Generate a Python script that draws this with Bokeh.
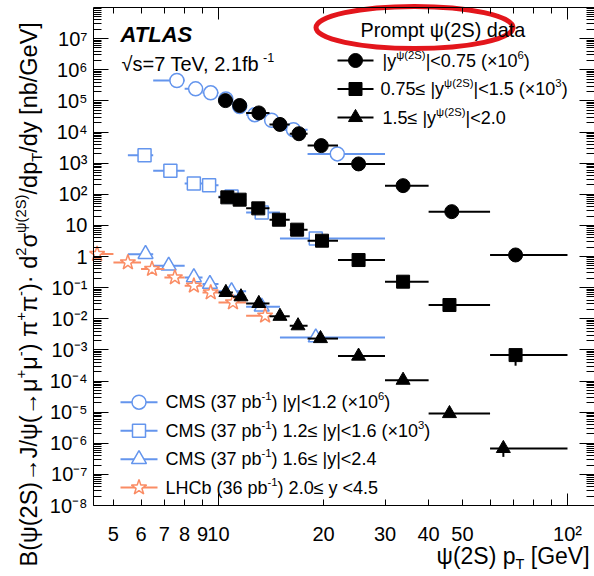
import math
from bokeh.plotting import figure
from bokeh.models import FixedTicker, LogAxis, CustomJSTickFormatter, Label
from bokeh.embed import file_html
from bokeh.resources import INLINE

# ---------------- data ----------------
# ATLAS prompt psi(2S), pT bins (GeV)
atlas_lo = [10, 11, 12, 14, 16, 18, 22, 30, 40, 60]
atlas_hi = [11, 12, 14, 16, 18, 22, 30, 40, 60, 100]
# |y|<0.75 (x1e6)
atlas_c_pt = [10.47, 11.5, 13.05, 15.0, 17.0, 19.7, 25.2, 33.8, 46.6, 71.0]
atlas_c_val = [1.02e5, 7.1e4, 4.1e4, 1.75e4, 8.8e3, 3.65e3, 942, 189, 27.6, 1.12]
# 0.75<=|y|<1.5 (x1e3)
atlas_s_pt = [10.6, 11.5, 13.0, 14.9, 16.8, 19.8, 25.2, 33.8, 45.9, 71.0]
atlas_s_val = [79.5, 67, 35.2, 15.2, 7.28, 3.22, 0.77, 0.155, 0.0276, 6.8e-4]
atlas_s_low = [79.5, 67, 35.2, 15.2, 7.28, 3.22, 0.77, 0.155, 0.0276, 3.1e-4]
# 1.5<=|y|<2.0
atlas_t_pt = [10.5, 11.6, 13.05, 15.0, 16.9, 19.6, 25.2, 33.8, 45.9, 65.5]
atlas_t_val = [0.070, 0.0509, 0.031, 0.0120, 5.96e-3, 2.31e-3, 6.3e-4, 1.06e-4, 9.0e-6, 6.8e-7]
atlas_t_low = [0.070, 0.0509, 0.031, 0.0120, 5.96e-3, 2.31e-3, 6.3e-4, 1.06e-4, 9.0e-6, 3.65e-7]

# CMS |y|<1.2 (x1e6)
cms_c_lo = [6.5, 8, 9, 10, 11, 12, 13.5, 15, 18]
cms_c_hi = [8, 9, 10, 11, 12, 13.5, 15, 18, 30]
cms_c_pt = [7.6, 8.6, 9.5, 10.5, 11.5, 12.7, 14.2, 16.4, 21.9]
cms_c_val = [4.5e5, 2.43e5, 1.81e5, 1.15e5, 6.6e4, 3.6e4, 2.38e4, 1.19e4, 1.98e3]
# CMS 1.2<=|y|<1.6 (x1e3)
cms_s_lo = [5.5, 6.5, 8, 9, 10, 12, 15]
cms_s_hi = [6.5, 8, 9, 10, 12, 15, 30]
cms_s_pt = [6.14, 7.28, 8.5, 9.4, 10.9, 13.3, 19.0]
cms_s_val = [1.78e3, 570, 222, 195, 85, 26, 3.8]
# CMS 1.6<=|y|<2.4
cms_t_lo = [5.5, 6.5, 8, 9, 10, 12, 15]
cms_t_hi = [6.5, 8, 9, 10, 12, 15, 30]
cms_t_pt = [6.18, 7.2, 8.5, 9.45, 10.9, 13.3, 19.0]
cms_t_val = [1.19, 0.506, 0.213, 0.131, 0.0766, 0.0243, 2.5e-3]
# LHCb 2.0<=y<4.5
lhcb_lo = [4, 5, 6, 7, 8, 9, 10, 12]
lhcb_hi = [5, 6, 7, 8, 9, 10, 12, 14]
lhcb_pt = [4.49, 5.5, 6.45, 7.5, 8.5, 9.5, 11.0, 13.6]
lhcb_val = [1.20, 0.646, 0.396, 0.213, 0.115, 0.070, 0.0334, 0.0125]

x_major = [10, 100]
x_minor = [5, 6, 7, 8, 9, 20, 30, 40, 50, 60, 70, 80, 90]
x_labelled = [5, 6, 7, 8, 9, 10, 20, 30, 40, 50, 100]
y_decades = [10.0 ** k for k in range(-8, 9)]
y_minor = [m * 10.0 ** k for k in range(-8, 8) for m in range(2, 10)]

# ---------------- geometry / style ----------------
FONT = "Liberation Sans"
BLUE = "#6495ED"
ORANGE = "#FA8C64"
RED = "#E3161C"

W_PX, H_PX = 594, 576
BOX_L, BOX_T, BOX_B = 93, 7, 505          # axes box in page pixels
XB0 = 4.384                                # x value at left edge of the box
YB0, YB1 = 1e-8, 1e8                       # y values at bottom / top of the box
XDEC = 349.0                               # px per decade in x
YDEC = (BOX_B - BOX_T) / 16.0              # px per decade in y
LX0 = math.log10(XB0)


def px2x(px):
    return 10 ** (LX0 + (px - BOX_L) / XDEC)


def px2y(py):
    return 10 ** (-8 + (BOX_B - py) / YDEC)


XB1 = px2x(W_PX)
p = figure(width=W_PX, height=H_PX, x_axis_type="log", y_axis_type="log",
           x_range=(px2x(0), px2x(W_PX)), y_range=(px2y(H_PX), px2y(0)),
           output_backend="svg", toolbar_location=None,
           min_border=0, min_border_left=0, min_border_right=0,
           min_border_top=0, min_border_bottom=0)
p.xgrid.visible = False
p.ygrid.visible = False
p.outline_line_color = None
p.background_fill_color = "white"
p.border_fill_color = "white"

blank = CustomJSTickFormatter(code="return '';")

# bottom axis: ticks only
xa = p.xaxis[0]
xa.ticker = FixedTicker(ticks=x_major, minor_ticks=x_minor)
xa.formatter = blank
xa.fixed_location = YB0
xa.bounds = (XB0, XB1)
xa.major_tick_in = 12
xa.major_tick_out = 0
xa.minor_tick_in = 6
xa.minor_tick_out = 0
xa.major_label_text_font_size = "1px"
xa.major_label_standoff = 0
xa.axis_line_color = "black"

# bottom axis: labels only
xb = LogAxis(ticker=FixedTicker(ticks=x_labelled, minor_ticks=[]),
             formatter=CustomJSTickFormatter(code="return tick >= 99 ? '10\u00b2' : String(Math.round(tick));"),
             fixed_location=YB0, bounds=(XB0, XB1),
             major_tick_in=0, major_tick_out=0, minor_tick_in=0, minor_tick_out=0,
             major_tick_line_color=None, minor_tick_line_color=None,
             axis_line_color=None, major_label_standoff=17,
             major_label_text_font=FONT, major_label_text_font_size="20px",
             major_label_text_color="black")
p.add_layout(xb, "below")

# top axis
xt = LogAxis(ticker=FixedTicker(ticks=x_major, minor_ticks=x_minor), formatter=blank,
             fixed_location=YB1, bounds=(XB0, XB1),
             major_tick_in=12, major_tick_out=0, minor_tick_in=6, minor_tick_out=0,
             major_label_text_font_size="1px", major_label_standoff=0,
             axis_line_color="black")
p.add_layout(xt, "above")

ycode = """
const e = Math.round(Math.log10(tick));
if (e === 0) return "1";
if (e === 1) return "10";
const sup = {"-": "\u207b", "0": "\u2070", "1": "\u00b9", "2": "\u00b2", "3": "\u00b3",
             "4": "\u2074", "5": "\u2075", "6": "\u2076", "7": "\u2077", "8": "\u2078", "9": "\u2079"};
let s = "";
for (const c of String(e)) s += sup[c];
return "10" + s;
"""
ya = p.yaxis[0]
ya.ticker = FixedTicker(ticks=y_decades[:-1], minor_ticks=y_minor)
ya.formatter = CustomJSTickFormatter(code=ycode)
ya.fixed_location = XB0
ya.bounds = (YB0, YB1)
ya.major_tick_in = 15
ya.major_tick_out = 0
ya.minor_tick_in = 8
ya.minor_tick_out = 0
ya.major_label_standoff = 6
ya.major_label_text_font = FONT
ya.major_label_text_font_size = "20px"
ya.major_label_text_color = "black"
ya.axis_line_color = "black"

yr = LogAxis(ticker=FixedTicker(ticks=y_decades, minor_ticks=y_minor), formatter=blank,
             fixed_location=XB1, bounds=(YB0, YB1),
             major_tick_in=15, major_tick_out=0, minor_tick_in=8, minor_tick_out=0,
             major_label_text_font_size="1px", major_label_standoff=0,
             axis_line_color="black")
p.add_layout(yr, "right")

# ---------------- glyphs ----------------
def hbar(lo, hi, val, color, lw=2):
    lo_c = [max(v, XB0) for v in lo]   # clip at the axes box
    return p.segment(x0=lo_c, y0=val, x1=hi, y1=val, line_color=color, line_width=lw)


hbar(cms_c_lo, cms_c_hi, cms_c_val, BLUE)
p.scatter(cms_c_pt, cms_c_val, marker="circle", size=14, fill_color="white",
          line_color=BLUE, line_width=1.5)
hbar(cms_s_lo, cms_s_hi, cms_s_val, BLUE)
p.scatter(cms_s_pt, cms_s_val, marker="square", size=13, fill_color="white",
          line_color=BLUE, line_width=1.5)
hbar(cms_t_lo, cms_t_hi, cms_t_val, BLUE)
p.scatter(cms_t_pt, cms_t_val, marker="triangle", size=15, fill_color="white",
          line_color=BLUE, line_width=1.5)
hbar(lhcb_lo, lhcb_hi, lhcb_val, ORANGE)
p.scatter(lhcb_pt, lhcb_val, marker="star", size=16, fill_color="white",
          line_color=ORANGE, line_width=1.5)

hbar(atlas_lo, atlas_hi, atlas_c_val, "black")
p.scatter(atlas_c_pt, atlas_c_val, marker="circle", size=14, color="black")
hbar(atlas_lo, atlas_hi, atlas_s_val, "black")
p.segment(x0=atlas_s_pt, y0=atlas_s_low, x1=atlas_s_pt, y1=atlas_s_val, line_color="black", line_width=2)
p.scatter(atlas_s_pt, atlas_s_val, marker="square", size=13, color="black")
hbar(atlas_lo, atlas_hi, atlas_t_val, "black")
p.segment(x0=atlas_t_pt, y0=atlas_t_low, x1=atlas_t_pt, y1=atlas_t_val, line_color="black", line_width=2)
p.scatter(atlas_t_pt, atlas_t_val, marker="triangle", size=14, color="black")

# ---------------- legend symbols (placed in pixel space) ----------------
def legend_symbol(cx, x0, x1, cy, marker, size, line_color, fill_color, lw_m):
    p.segment(x0=[px2x(x0)], y0=[px2y(cy)], x1=[px2x(x1)], y1=[px2y(cy)],
              line_color=line_color, line_width=2)
    p.scatter(x=[px2x(cx)], y=[px2y(cy)], marker=marker, size=size,
              fill_color=fill_color, line_color=line_color, line_width=lw_m)


top_rows = [60, 88.5, 117]
legend_symbol(355, 337, 373, top_rows[0], "circle", 14, "black", "black", 1)
legend_symbol(355, 337, 373, top_rows[1], "square", 13, "black", "black", 1)
legend_symbol(355, 337, 373, top_rows[2], "triangle", 14, "black", "black", 1)
bot_rows = [401.7, 430.3, 458.7, 487]
legend_symbol(138.5, 120, 157, bot_rows[0], "circle", 14, BLUE, "white", 1.5)
legend_symbol(138.5, 120, 157, bot_rows[1], "square", 13, BLUE, "white", 1.5)
legend_symbol(138.5, 120, 157, bot_rows[2], "triangle", 15, BLUE, "white", 1.5)
legend_symbol(138.5, 120, 157, bot_rows[3], "star", 16, ORANGE, "white", 1.5)

# ---------------- texts ----------------
W = {}
for c, w in zip("ABCDEFGHIJKLMNOPQRSTUVWXYZ",
                [667, 667, 722, 722, 667, 611, 778, 722, 278, 500, 667, 556, 833, 722, 778,
                 667, 778, 722, 667, 611, 722, 667, 944, 667, 667, 611]):
    W[c] = w
for c, w in zip("abcdefghijklmnopqrstuvwxyz",
                [556, 556, 500, 556, 556, 278, 556, 556, 222, 222, 500, 222, 833, 556, 556,
                 556, 556, 333, 500, 278, 556, 500, 722, 500, 500, 500]):
    W[c] = w
for c in "0123456789":
    W[c] = 556
W.update({" ": 278, "(": 333, ")": 333, "[": 278, "]": 278, "/": 278, "|": 260, ".": 278,
          ",": 278, "=": 584, "+": 584, "-": 333, "<": 584, "≤": 549, "×": 584, "·": 333,
          "→": 1000, "√": 549, "ψ": 713, "μ": 576, "π": 690, "σ": 617})

BASE_FIX = 0.38   # baseline correction (fraction of font size)


def tw(s, size):
    return sum(W.get(c, 556) for c in s) * size / 1000.0


def rich(runs, bx, by, size, vertical=False, color="black", style="normal"):
    """Place runs of text; (bx, by) = page-pixel baseline start of the first run."""
    pos = 0.0
    for txt, kind in runs:
        if kind == "n":
            fs, sh = size, 0.0
        elif kind == "sup":
            fs, sh = size * 0.63, size * 0.47
        else:
            fs, sh = size * 0.63, -size * 0.22
        # leading blanks are collapsed by SVG text: advance over them instead
        stripped = txt.lstrip(" ")
        pos += tw(txt[:len(txt) - len(stripped)], fs)
        txt = stripped
        up = sh + BASE_FIX * fs
        if not vertical:
            px, py, ang = bx + pos, by - up, 0.0
        else:
            px, py, ang = bx - up, by - pos, math.pi / 2
        p.add_layout(Label(x=px2x(px), y=px2y(py), text=txt, angle=ang,
                           text_font=FONT, text_font_size=f"{fs:.1f}px", text_color=color,
                           text_font_style=style, text_baseline="alphabetic",
                           text_align="left"))
        pos += tw(txt, fs)


rich([("ATLAS", "n")], 120, 42, 22, style="bold italic")
rich([("√s=7 TeV, 2.1fb", "n"), ("-1", "sup")], 121, 71, 20)
rich([("Prompt ψ(2S) data", "n")], 360, 37, 19.8)

rich([("|y", "n"), ("ψ(2S)", "sup"), ("|<0.75 (×10", "n"), ("6", "sup"), (")", "n")],
     382, top_rows[0] + 7, 18)
rich([("0.75≤ |y", "n"), ("ψ(2S)", "sup"), ("|<1.5 (×10", "n"), ("3", "sup"), (")", "n")],
     380, top_rows[1] + 7, 18)
rich([("1.5≤ |y", "n"), ("ψ(2S)", "sup"), ("|<2.0", "n")], 382, top_rows[2] + 7, 18)

rich([("CMS (37 pb", "n"), ("-1", "sup"), (") |y|<1.2 (×10", "n"), ("6", "sup"), (")", "n")],
     165, bot_rows[0] + 7, 18)
rich([("CMS (37 pb", "n"), ("-1", "sup"), (") 1.2≤ |y|<1.6 (×10", "n"), ("3", "sup"), (")", "n")],
     165, bot_rows[1] + 7, 18)
rich([("CMS (37 pb", "n"), ("-1", "sup"), (") 1.6≤ |y|<2.4", "n")], 165, bot_rows[2] + 7, 18)
rich([("LHCb (36 pb", "n"), ("-1", "sup"), (") 2.0≤ y <4.5", "n")], 165, bot_rows[3] + 7, 18)

# axis titles
rich([("ψ(2S) p", "n"), ("T", "sub"), (" [GeV]", "n")], 436, 564, 23)
rich([("B(ψ(2S)→J/ψ(→μ", "n"), ("+", "sup"), ("μ", "n"), ("-", "sup"), (") π", "n"),
      ("+", "sup"), ("π", "n"), ("-", "sup"), (")· d", "n"), ("2", "sup"), ("σ", "n"),
      ("ψ(2S)", "sup"), ("/dp", "n"), ("T", "sub"), ("/dy [nb/GeV]", "n")],
     37, 566, 23.5, vertical=True)

# red highlight ellipse around the legend header
p.ellipse(x=[px2x(414)], y=[px2y(27)], width=197, height=42, width_units="screen",
          height_units="screen", fill_color=None, line_color=RED, line_width=5)

open("out.html", "w").write(file_html(p, INLINE))
